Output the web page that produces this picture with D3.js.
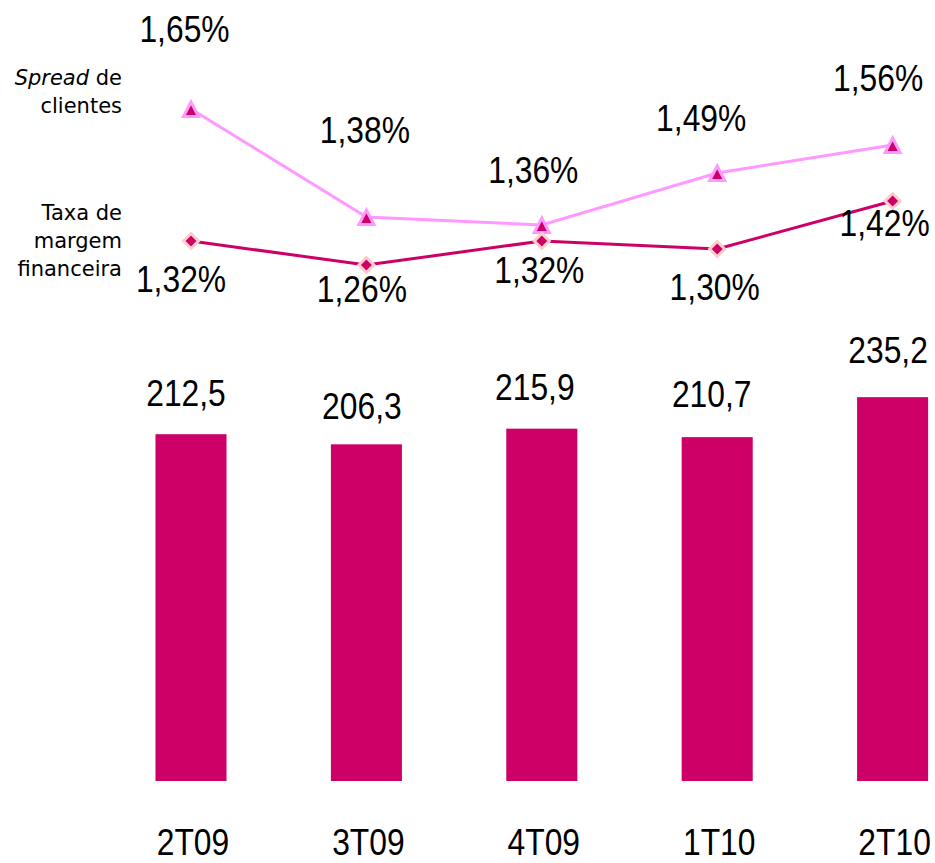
<!DOCTYPE html>
<html>
<head>
<meta charset="utf-8">
<script src="https://cdn.jsdelivr.net/npm/d3@7"></script>
<style>
  html, body { margin: 0; padding: 0; background: #ffffff; }
  svg { display: block; }
</style>
</head>
<body>
<svg id="chart" width="935" height="863"></svg>
<script>
// ---- data ----
const categories = ["2T09", "3T09", "4T09", "1T10", "2T10"];
const barValues = [212.5, 206.3, 215.9, 210.7, 235.2];
const spreadValues = [1.65, 1.38, 1.36, 1.49, 1.56];
const marginValues = [1.32, 1.26, 1.32, 1.30, 1.42];
const legendSpread = [["Spread", " de"], ["clientes"]];
const legendMargin = ["Taxa de", "margem", "financeira"];

// ---- label placement (layout only) ----
const barLabelOffsets = [[-5, -28], [-4.5, -25], [-7, -29], [-5.5, -30.5], [-4.5, -34]];
const spreadLabelOffsets = [[-6.5, -67], [-1.5, -74], [-8.5, -42], [-16, -42], [-14.5, -54]];
const marginLabelOffsets = [[-10, 51], [-4.5, 37], [-2.5, 42], [-2.5, 51], [-8, 35]];

const fmtBar = d => d.toFixed(1).replace(".", ",");
const fmtPct = d => d.toFixed(2).replace(".", ",") + "%";

const BAR_COLOR = "#cc0066";
const SPREAD_LINE = "#ff99ff";
const MARGIN_LINE = "#cc0066";
const DIAMOND_STROKE = "#ffcccc";
const NUM_FONT = "'Liberation Sans', Arial, sans-serif";
const NUM_SIZE = 37;
const NUM_SX = 0.86;
const TXT_FONT = "'DejaVu Sans', Verdana, sans-serif";

const svg = d3.select("#chart");

const x = d3.scaleBand()
  .domain(categories)
  .range([103.3, 980.3])
  .paddingInner(0.595)
  .paddingOuter(0.2975);
const cx = c => x(c) + x.bandwidth() / 2;

const yBar = d3.scaleLinear().domain([0, 250]).range([781, 373]);
const yLine = d3.scaleLinear().domain([1.0, 1.65]).range([369, 109]);

function numText(sel, fx, fy, fmt) {
  sel.attr("transform", (d, i) => `translate(${fx(d, i)},${fy(d, i)}) scale(${NUM_SX},1)`)
    .attr("text-anchor", "middle")
    .attr("font-family", NUM_FONT)
    .attr("font-size", NUM_SIZE)
    .attr("fill", "#000")
    .text(fmt);
}

// ---- bars ----
svg.append("g").selectAll("rect")
  .data(barValues)
  .join("rect")
  .attr("x", (d, i) => x(categories[i]))
  .attr("y", d => yBar(d))
  .attr("width", x.bandwidth())
  .attr("height", d => yBar(0) - yBar(d))
  .attr("fill", BAR_COLOR);

svg.append("g").selectAll("text")
  .data(barValues)
  .join("text")
  .call(numText,
    (d, i) => cx(categories[i]) + barLabelOffsets[i][0],
    (d, i) => yBar(d) + barLabelOffsets[i][1],
    fmtBar);

// ---- category axis labels ----
const xAxis = d3.axisBottom(x).tickSize(0).tickPadding(0);
const gx = svg.append("g").attr("transform", "translate(2,855)").call(xAxis);
gx.select(".domain").remove();
gx.selectAll("text")
  .attr("font-family", NUM_FONT)
  .attr("font-size", NUM_SIZE)
  .attr("fill", "#000")
  .attr("y", 0)
  .attr("dy", 0)
  .attr("transform", `scale(${NUM_SX},1)`);

// ---- lines ----
const line = d3.line()
  .x((d, i) => cx(categories[i]))
  .y(d => yLine(d));

svg.append("path")
  .datum(spreadValues)
  .attr("d", line)
  .attr("fill", "none")
  .attr("stroke", SPREAD_LINE)
  .attr("stroke-width", 3);

svg.append("g").selectAll("path")
  .data(spreadValues)
  .join("path")
  .attr("transform", (d, i) => `translate(${cx(categories[i])},${yLine(d)})`)
  .attr("d", "M0,-7L7.5,7.5L-7.5,7.5Z")
  .attr("fill", BAR_COLOR)
  .attr("stroke", SPREAD_LINE)
  .attr("stroke-width", 3);

svg.append("path")
  .datum(marginValues)
  .attr("d", line)
  .attr("fill", "none")
  .attr("stroke", MARGIN_LINE)
  .attr("stroke-width", 3);

svg.append("g").selectAll("path")
  .data(marginValues)
  .join("path")
  .attr("transform", (d, i) => `translate(${cx(categories[i])},${yLine(d)})`)
  .attr("d", "M0,-7.5L7.5,0L0,7.5L-7.5,0Z")
  .attr("fill", BAR_COLOR)
  .attr("stroke", DIAMOND_STROKE)
  .attr("stroke-width", 3);

// ---- line labels ----
svg.append("g").selectAll("text")
  .data(spreadValues)
  .join("text")
  .call(numText,
    (d, i) => cx(categories[i]) + spreadLabelOffsets[i][0],
    (d, i) => yLine(d) + spreadLabelOffsets[i][1],
    fmtPct);

svg.append("g").selectAll("text")
  .data(marginValues)
  .join("text")
  .call(numText,
    (d, i) => cx(categories[i]) + marginLabelOffsets[i][0],
    (d, i) => yLine(d) + marginLabelOffsets[i][1],
    fmtPct);

// ---- series names ----
const leg = svg.append("g")
  .attr("font-family", TXT_FONT)
  .attr("font-size", 21)
  .attr("fill", "#000")
  .attr("text-anchor", "end");

const t1 = leg.append("text").attr("x", 122).attr("y", 85);
t1.append("tspan").attr("font-style", "italic").text(legendSpread[0][0]);
t1.append("tspan").text(legendSpread[0][1]);
leg.append("text").attr("x", 122).attr("y", 113).text(legendSpread[1][0]);

leg.selectAll("text.m")
  .data(legendMargin)
  .join("text")
  .attr("class", "m")
  .attr("x", 122)
  .attr("y", (d, i) => 220 + i * 27.8)
  .text(d => d);
</script>
</body>
</html>
